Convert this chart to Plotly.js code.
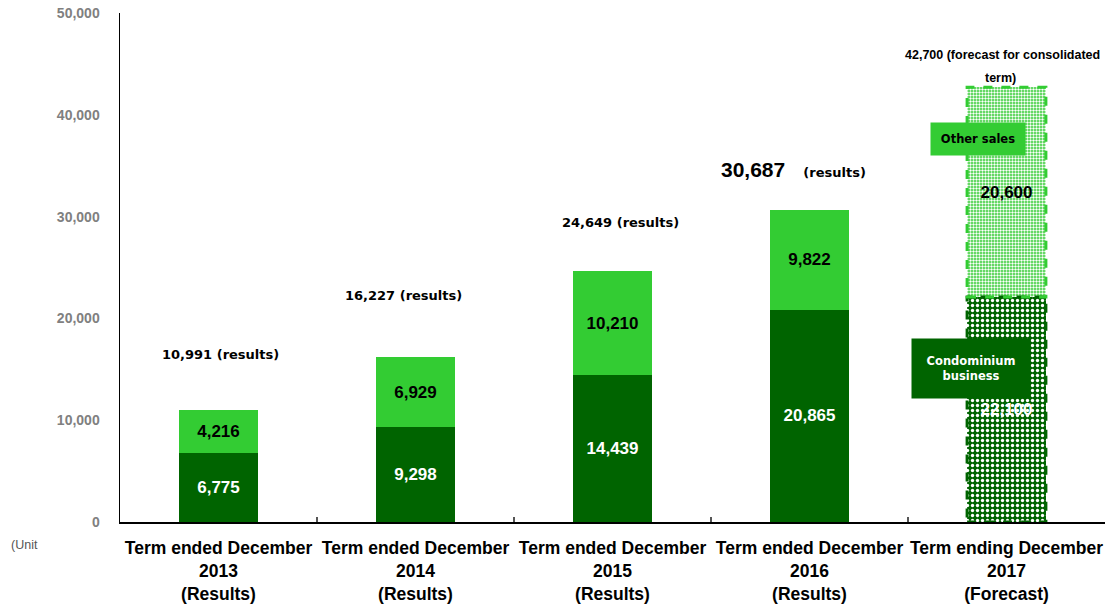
<!DOCTYPE html>
<html>
<head>
<meta charset="utf-8">
<script src="https://cdn.plot.ly/plotly-3.0.1.min.js"></script>
<style>html,body{margin:0;padding:0;background:#fff;}#chart{width:1105px;height:610px;}</style>
</head>
<body>
<div id="chart"></div>
<script>
// ---- data ----
const categories = [
  "Term ended December<br>2013<br>(Results)",
  "Term ended December<br>2014<br>(Results)",
  "Term ended December<br>2015<br>(Results)",
  "Term ended December<br>2016<br>(Results)",
  "Term ending December<br>2017<br>(Forecast)"
];
const condominium = [6775, 9298, 14439, 20865, 22100];
const otherSales = [4216, 6929, 10210, 9822, 20600];
const totals = [10991, 16227, 24649, 30687, 42700];
const totalNotes = ["(results)", "(results)", "(results)", "(results)", "(forecast for consolidated"];
const totalNotes2 = ["", "", "", "", "term)"];
const isForecast = [false, false, false, false, true];

// ---- styles ----
const DARK = "#006400";
const LIGHT = "#33CC33";
const BAR_W = 0.4;
const labelOffsets = [[2, 56], [-12, 61], [8, 49], [-16, 40], [-4, 32]];
const label2Offsets = [[0, 0], [0, 0], [0, 0], [0, 0], [-6, 9]];

const fmt = v => v.toLocaleString("en-US");

const traceCondo = {
  type: "bar", x: categories, y: condominium, width: BAR_W,
  marker: {
    color: DARK,
    line: {width: 0},
    pattern: {
      shape: isForecast.map(f => f ? "." : ""),
      fgcolor: "#ffffff", bgcolor: DARK, size: 5, solidity: 0.35, fillmode: "replace"
    }
  },
  text: condominium.map(fmt), textposition: "inside", insidetextanchor: "middle",
  textangle: 0, constraintext: "none",
  textfont: {family: "Liberation Sans, Arial, sans-serif", size: 17, color: "#ffffff", weight: "bold"},
  hoverinfo: "skip", showlegend: false
};
const traceOther = {
  type: "bar", x: categories, y: otherSales, width: BAR_W,
  marker: {
    color: LIGHT,
    line: {width: 0},
    pattern: {
      shape: isForecast.map(f => f ? "." : ""),
      fgcolor: "#ffffff", bgcolor: LIGHT, size: 3, solidity: 0.5, fillmode: "replace"
    }
  },
  text: otherSales.map(fmt), textposition: "inside", insidetextanchor: "middle",
  textangle: 0, constraintext: "none",
  textfont: {family: "Liberation Sans, Arial, sans-serif", size: 17, color: "#000000", weight: "bold"},
  hoverinfo: "skip", showlegend: false
};

const annFont = {family: "DejaVu Sans, sans-serif", size: 13, color: "#000", weight: "bold"};
const fcFont = {family: "Liberation Sans, Arial, sans-serif", size: 12.5, color: "#000", weight: "bold"};
const annotations = [];
totals.forEach((t, i) => {
  let txt, font = Object.assign({}, annFont);
  if (i === 3) {
    txt = "<span style='font-family:Liberation Sans, Arial, sans-serif;font-size:21px'>" + fmt(t) + "</span>    (results)";
  } else if (isForecast[i]) {
    txt = fmt(t) + " " + totalNotes[i];
    font = fcFont;
  } else {
    txt = fmt(t) + " " + totalNotes[i];
  }
  annotations.push({
    xref: "x", yref: "y", x: categories[i], y: t,
    xshift: labelOffsets[i][0], yshift: labelOffsets[i][1],
    text: txt, showarrow: false, font: font,
    xanchor: "center", yanchor: "middle", align: "center"
  });
  if (totalNotes2[i]) {
    annotations.push({
      xref: "x", yref: "y", x: categories[i], y: t,
      xshift: label2Offsets[i][0], yshift: label2Offsets[i][1],
      text: totalNotes2[i], showarrow: false, font: fcFont,
      xanchor: "center", yanchor: "middle"
    });
  }
});
annotations.push({
  xref: "paper", yref: "paper", x: 0.871, y: 0.7525,
  text: "Other sales", showarrow: false, bgcolor: LIGHT, width: 92, height: 30,
  font: {family: "DejaVu Sans, sans-serif", size: 11.5, color: "#000", weight: "bold"},
  xanchor: "center", yanchor: "middle"
});
annotations.push({
  xref: "paper", yref: "paper", x: 0.864, y: 0.3016,
  text: "Condominium<br>business", showarrow: false, bgcolor: DARK, width: 116, height: 57,
  font: {family: "DejaVu Sans, sans-serif", size: 11.5, color: "#fff", weight: "bold"},
  xanchor: "center", yanchor: "middle"
});
annotations.push({
  xref: "paper", yref: "paper", x: -0.113, y: -0.045,
  text: "(Unit", showarrow: false, xanchor: "left", yanchor: "middle",
  font: {family: "Liberation Sans, Arial, sans-serif", size: 12.5, color: "#555"}
});

// dashed outlines for forecast bars, derived from data
const shapes = [];
categories.forEach((c, i) => {
  if (!isForecast[i]) return;
  shapes.push({type: "rect", xref: "x", yref: "y", x0: i - BAR_W / 2, x1: i + BAR_W / 2,
    y0: 0, y1: condominium[i], line: {color: DARK, width: 3, dash: "dash"}, layer: "above"});
  shapes.push({type: "rect", xref: "x", yref: "y", x0: i - BAR_W / 2, x1: i + BAR_W / 2,
    y0: condominium[i], y1: condominium[i] + otherSales[i], line: {color: LIGHT, width: 3, dash: "dash"}, layer: "above"});
});

const layout = {
  width: 1105, height: 610,
  margin: {l: 120, r: 0, t: 13, b: 88, autoexpand: false},
  barmode: "stack",
  paper_bgcolor: "#fff", plot_bgcolor: "#fff",
  showlegend: false,
  xaxis: {
    type: "category", range: [-0.5, categories.length - 0.5],
    showgrid: false, zeroline: false, automargin: false,
    showline: true, linecolor: "#000", linewidth: 2,
    ticks: "inside", tickson: "boundaries", ticklen: 5, tickcolor: "#555", tickwidth: 2,
    tickangle: 0,
    tickfont: {family: "Liberation Sans, Arial, sans-serif", size: 17.5, color: "#000", weight: "bold"},
    ticklabelstandoff: 9
  },
  yaxis: {
    range: [0, 50000], dtick: 10000, tickformat: ",", automargin: false,
    showgrid: false, zeroline: false,
    showline: true, linecolor: "#000", linewidth: 1.5, ticks: "",
    tickfont: {family: "Liberation Sans, Arial, sans-serif", size: 14, color: "#808080", weight: "bold"},
    ticklabelstandoff: 16
  },
  annotations: annotations,
  shapes: shapes
};

Plotly.newPlot("chart", [traceCondo, traceOther], layout, {displayModeBar: false, staticPlot: true});
</script>
</body>
</html>
